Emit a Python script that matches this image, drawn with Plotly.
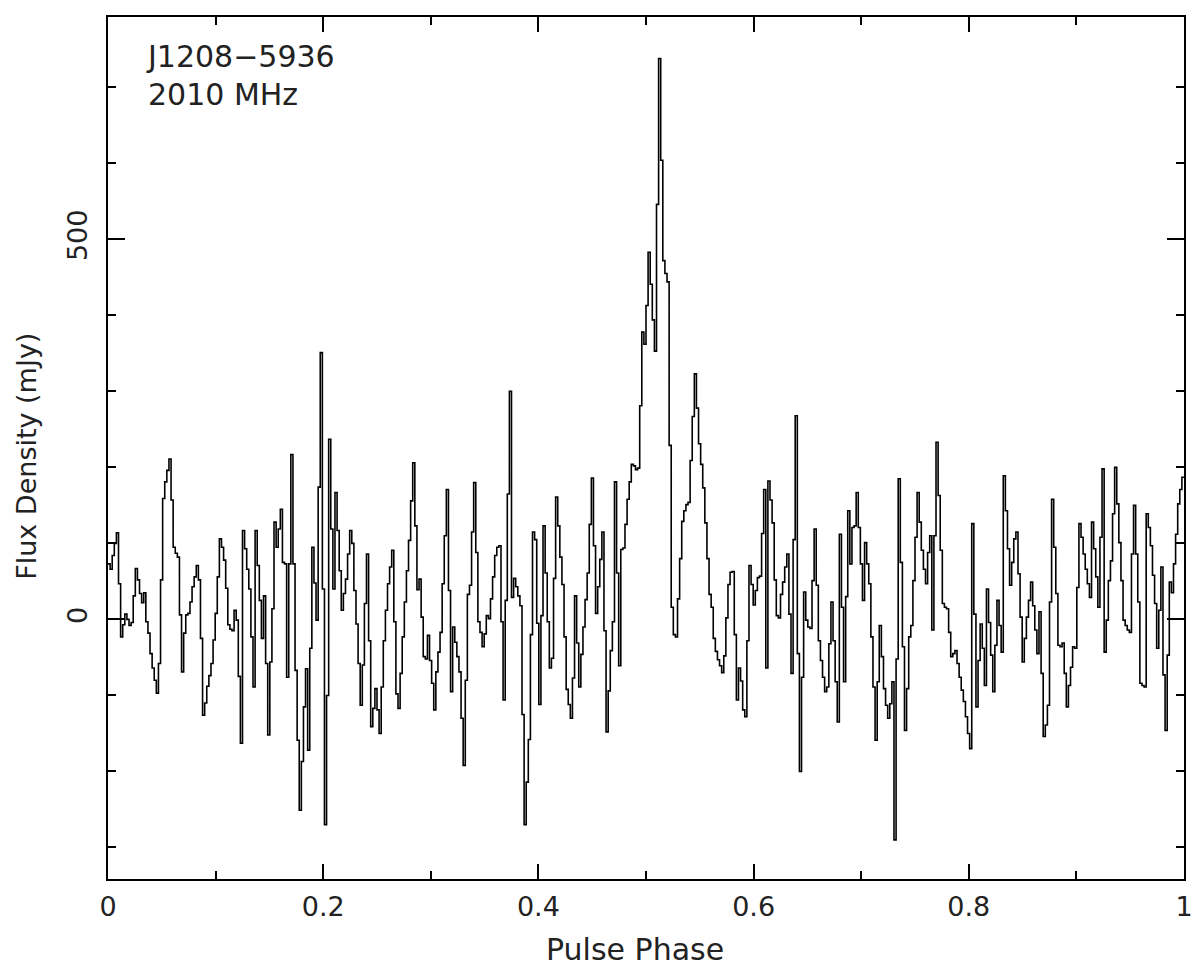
import numpy as np
import plotly.graph_objects as go

# Pulse profile of J1208-5936 at 2010 MHz, 512 phase bins, flux density in mJy.
# Values are split in chunks by bin range.
flux_000_063 = [73, 66, 84, 100, 114, 47, -23, -7, 7, 0,
                -8, -4, 31, 67, 52, 34, 22, 35, -3, -18,
                -45, -64, -80, -97, -58, 52, 159, 181, 196, 211,
                157, 95, 87, 82, 6, -69, -18, 6, 8, 23,
                43, 56, 71, 52, -25, -126, -110, -88, -74, -58,
                -27, 8, 56, 106, 95, 78, 41, -7, -13, -15,
                12, -1, -75, -163]
flux_064_128 = [117, 93, 66, 40, -23, -89, 117, 71, 25, -25,
                31, -58, -152, -56, 14, 128, 95, 119, 145, 75,
                73, -76, 73, 217, 73, -67, -159, -251, -187, -115,
                -65, -172, -38, 95, 48, -1, 174, 351, 40, -270,
                -100, 237, 119, 40, 167, 117, 64, 12, 34, 53,
                86, 117, 100, 38, -6, -58, -113, -60, 21, 86,
                -28, -141, -117, -91, -119]
flux_129_192 = [-150, -89, -28, 12, 47, 69, 91, -3, -98, -117,
                -71, -23, 23, 64, 104, 156, 206, 123, 39, 53,
                3, -49, -52, -21, -54, -84, -119, -69, -43, -17,
                47, 110, 171, 38, -95, -10, -30, -49, -69, -130,
                -192, -80, 33, 45, 115, 180, 88, -3, -17, -36,
                -19, 5, 1, 27, 56, 84, 95, 97, -3, -106,
                25, 165, 300, 29]
flux_193_256 = [54, 43, 31, 18, -125, -270, -214, -158, -20, 115,
                105, -5, -112, 5, 123, 61, -3, -64, -51, 54,
                161, 123, 82, 46, -23, -92, -112, -130, -77, 31,
                -31, -89, -46, -10, 26, 61, 125, 186, 97, 8,
                43, 79, 115, -15, -148, -94, -41, -3, 181, 61,
                -61, 92, 94, 125, 158, 181, 204, 202, 197, 199,
                281, 378, 362, 413]
flux_257_322 = [483, 441, 394, 353, 546, 738, 604, 472, 455, 444,
                229, 16, -20, -23, 27, 80, 129, 143, 151, 154,
                209, 267, 323, 278, 231, 204, 173, 127, 80, 33,
                16, -25, -42, -53, -61, -70, -48, 2, 46, 62,
                63, -20, -106, -64, -81, -119, -128, -28, 71, 46,
                19, 38, 55, 57, 113, 171, -64, 182, 157, 127,
                52, 5, 2, 33, 49, 69]
flux_323_384 = [86, 7, -71, 105, 268, -45, -200, -76, 36, -1,
                -10, -12, 51, 119, 45, -28, -54, -76, -95, -89,
                -32, 23, -28, -82, -135, 112, 16, -82, 30, 143,
                73, 121, 123, 167, 121, 73, 25, 101, 73, 47,
                -23, -89, -159, -82, -8, -49, -91, -113, -130, -111,
                -82, -290, -52, 185, 75, -36, -146, -91, -23, -8,
                51, 108]
flux_385_451 = [167, 128, 91, 66, 47, 88, 110, -14, 110, 233,
                163, 91, 21, 16, 14, -17, -49, -45, -41, -58,
                -76, -93, -108, -128, -150, -170, 126, 7, -115, -54,
                -6, -38, -87, 40, -4, -47, -95, -34, 25, -8,
                -43, 189, 143, 93, 45, 75, 106, 115, 60, 3,
                -56, -25, 3, 25, 49, 18, -14, -45, 10, -71,
                -154, -139, -113, 23, 158, 95, 34]
flux_452_511 = [-34, -36, -31, -71, -115, -87, -63, -36, -38, 42,
                126, 108, 86, 66, 47, 29, 128, 93, 56, 16,
                108, 198, -43, -1, 51, 77, 139, 200, 152, 101,
                51, -1, -8, -14, -17, 86, 150, 86, 23, -84,
                -87, -89, 139, 121, 97, 58, 21, -38, 12, 69,
                -73, -146, -47, 49, 35, 73, 112, 152, 171, 187]

x_tick_vals = [0, 0.2, 0.4, 0.6, 0.8, 1]
x_tick_text = ['0', '0.2', '0.4', '0.6', '0.8', '1']
y_tick_vals = [0, 500]
y_tick_text = ['0', '500']

source_name = 'J1208\u22125936'
frequency_label = '2010 MHz'

flux = np.concatenate([flux_000_063, flux_064_128, flux_129_192, flux_193_256,
                       flux_257_322, flux_323_384, flux_385_451, flux_452_511])
n_bins = len(flux)
phase_edges = np.arange(n_bins + 1) / n_bins

# step plot: each bin drawn flat from its left edge to the next one
x_step = phase_edges
y_step = np.append(flux, flux[-1])

FONT = 'DejaVu Sans'
INK = '#222222'

fig = go.Figure()
fig.add_trace(go.Scatter(
    x=x_step, y=y_step,
    mode='lines',
    line=dict(color='black', width=1.6, shape='hv'),
    hoverinfo='skip',
    showlegend=False
))

axis_common = dict(
    showline=True, linecolor='black', linewidth=2,
    mirror='ticks', ticks='inside', tickcolor='black', tickwidth=2,
    showgrid=False, zeroline=False,
    tickfont=dict(family=FONT, size=27, color=INK),
)

fig.update_xaxes(
    range=[0, 1],
    tickvals=x_tick_vals, ticktext=x_tick_text,
    ticklen=15, ticklabelstandoff=3,
    minor=dict(dtick=0.1, ticklen=8, ticks='inside', tickcolor='black', tickwidth=2),
    **axis_common
)
fig.update_yaxes(
    range=[-341.5, 792.5],
    tickvals=y_tick_vals, ticktext=y_tick_text,
    tickangle=-90,
    ticklen=17, ticklabelstandoff=8,
    minor=dict(dtick=100, ticklen=8, ticks='inside', tickcolor='black', tickwidth=2),
    **axis_common
)

fig.add_annotation(text=source_name, xref='paper', yref='paper',
                   x=0.033, y=0.977, xanchor='left', yanchor='top',
                   showarrow=False, font=dict(family=FONT, size=30, color=INK))
fig.add_annotation(text=frequency_label, xref='paper', yref='paper',
                   x=0.035, y=0.933, xanchor='left', yanchor='top',
                   showarrow=False, font=dict(family=FONT, size=30, color=INK))
fig.add_annotation(text='Pulse Phase', xref='paper', yref='paper',
                   x=0.49, y=-0.082, xanchor='center', yanchor='middle',
                   showarrow=False, font=dict(family=FONT, size=30, color=INK))
fig.add_annotation(text='Flux Density (mJy)', xref='paper', yref='paper',
                   x=-0.076, y=0.49, xanchor='center', yanchor='middle',
                   textangle=-90,
                   showarrow=False, font=dict(family=FONT, size=27, color=INK))

# the page body keeps its default 8px margin, so the figure is a bit smaller
fig.update_layout(
    width=1192, height=959,
    margin=dict(l=100, r=15, t=7, b=88),
    paper_bgcolor='white', plot_bgcolor='white',
)

fig.write_html('out.html')
